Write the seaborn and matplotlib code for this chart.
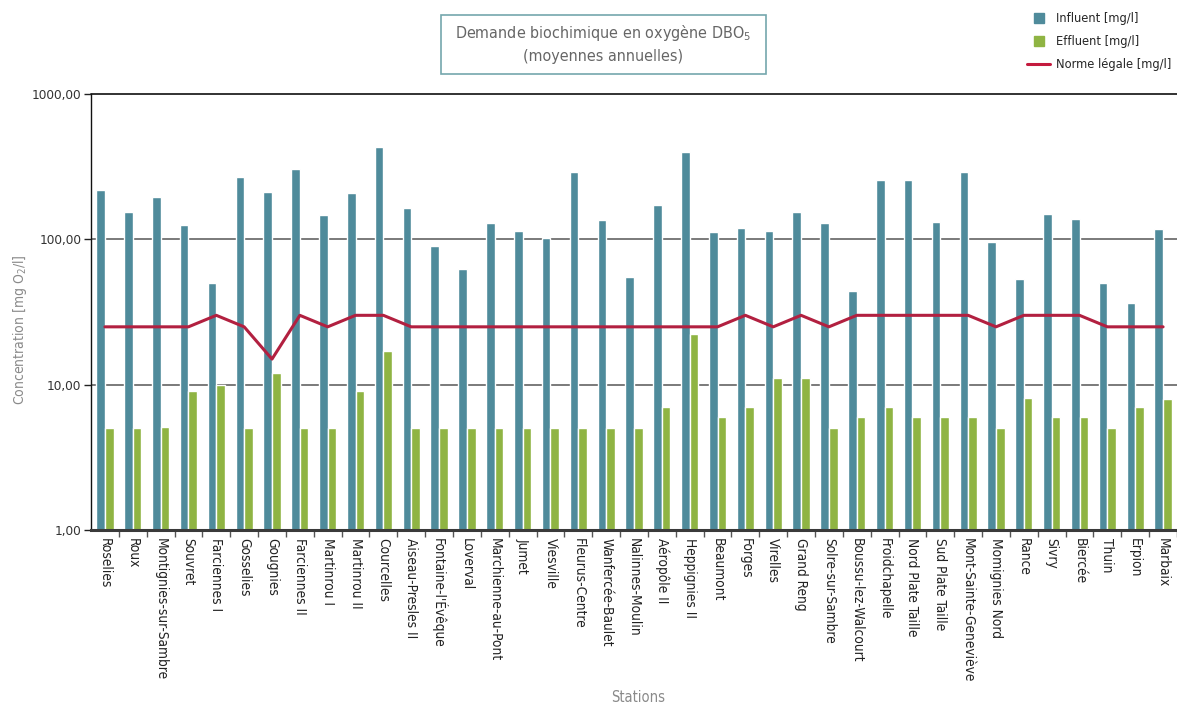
import numpy as np
import pandas as pd
import matplotlib
matplotlib.use("Agg")
import matplotlib.pyplot as plt
from matplotlib.lines import Line2D
from matplotlib.patches import Rectangle
from matplotlib.ticker import FixedLocator, NullLocator
import seaborn as sns

stations = ["Roselies", "Roux", "Montignies-sur-Sambre", "Souvret", "Farciennes I",
            "Gosselies", "Gougnies", "Farciennes II", "Martinrou I", "Martinrou II",
            "Courcelles", "Aiseau-Presles II", "Fontaine-l'Évêque", "Loverval",
            "Marchienne-au-Pont", "Jumet", "Viesville", "Fleurus-Centre",
            "Wanfercée-Baulet", "Nalinnes-Moulin", "Aéropôle II", "Heppignies II",
            "Beaumont", "Forges", "Virelles", "Grand Reng", "Solre-sur-Sambre",
            "Boussu-lez-Walcourt", "Froidchapelle", "Nord Plate Taille",
            "Sud Plate Taille", "Mont-Sainte-Geneviève", "Momignies Nord", "Rance",
            "Sivry", "Biercée", "Thuin", "Erpion", "Marbaix"]

influent = [219, 155, 196, 126, 50, 269, 212, 305, 148, 209,
            433, 164, 90, 62.5, 130, 114, 102, 291, 136, 55,
            173, 399, 112, 120, 114, 155, 130, 44, 256, 256,
            132, 291, 96, 53, 150, 138, 50, 36.4, 118]

effluent = [5.0, 5.0, 5.1, 9.0, 10.0, 5.0, 12.0, 5.0, 5.0, 9.0,
            17.0, 5.0, 5.0, 5.0, 5.0, 5.0, 5.0, 5.0, 5.0, 5.0,
            7.0, 22.3, 6.0, 7.0, 11.1, 11.1, 5.0, 6.0, 7.0, 6.0,
            6.0, 6.0, 5.0, 8.1, 6.0, 6.0, 5.0, 7.0, 8.0]

norme = [25, 25, 25, 25, 30, 25, 15, 30, 25, 30,
         30, 25, 25, 25, 25, 25, 25, 25, 25, 25,
         25, 25, 25, 30, 25, 30, 25, 30, 30, 30,
         30, 30, 25, 30, 30, 30, 25, 25, 25]

series_names = ["Influent [mg/l]", "Effluent [mg/l]", "Norme légale [mg/l]"]
y_ticks = [1, 10, 100, 1000]
y_tick_labels = ["1,00", "10,00", "100,00", "1000,00"]

c_inf = "#4f8b9b"
c_eff = "#8fb443"
c_norm = "#b22040"

sns.set_theme(style="white")
plt.rcParams['font.family'] = ['DejaVu Sans']
plt.rcParams['font.stretch'] = 'condensed'
plt.rcParams['mathtext.default'] = 'regular'

df = pd.DataFrame({
    "Station": stations * 2,
    "Valeur": influent + effluent,
    "Type": [series_names[0]] * len(stations) + [series_names[1]] * len(stations),
})

fig = plt.figure(figsize=(11.77, 7.05), dpi=100)
ax = fig.add_axes([91 / 1177, 1 - 530 / 705, 1 - 91 / 1177, (530 - 94) / 705])

sns.barplot(data=df, x="Station", y="Valeur", hue="Type", order=stations,
            hue_order=series_names[:2], palette=[c_inf, c_eff], width=0.62,
            gap=0, saturation=1, ax=ax, legend=False, errorbar=None)
ax.set_yscale("log")
sns.lineplot(x=np.arange(len(stations)), y=norme, color=c_norm, lw=2.2,
             ax=ax, sort=False, legend=False)

ax.set_ylim(1, 1000)
ax.set_xlim(-0.5, (1177 - 104.8) / 28.14)

for v in [10, 100]:
    ax.axhline(v, color="#7a7a7a", lw=1.4, zorder=0.5)
ax.axhline(1000, color="#222222", lw=1.3, zorder=0.5, clip_on=False)

ax.yaxis.set_major_locator(FixedLocator(y_ticks))
ax.yaxis.set_minor_locator(NullLocator())
ax.set_yticklabels(y_tick_labels, fontsize=9.7, color="#333333")
ax.tick_params(axis="y", which="major", length=5, width=1, color="#222222",
               direction="out", left=True, pad=2)

ax.set_xticks(np.arange(len(stations)))
ax.set_xticklabels(stations, rotation=270, fontsize=9.8, color="#222222",
                   ha="center", va="top")
ax.tick_params(axis="x", which="major", length=0, pad=6)
ax.set_xticks(np.arange(len(stations)) + 0.5, minor=True)
ax.tick_params(axis="x", which="minor", length=5, width=1, color="#555555",
               direction="out", bottom=True)

for s in ["top", "right"]:
    ax.spines[s].set_visible(False)
ax.spines["left"].set_color("#111111")
ax.spines["left"].set_linewidth(1.0)
ax.spines["bottom"].set_color("#3a3a3a")
ax.spines["bottom"].set_linewidth(2.2)

ax.set_xlabel("")
ax.set_ylabel("")
fig.text(20 / 1177, 1 - 330 / 705, "Concentration [mg O$_2$/l]", rotation=90,
         ha="center", va="center", fontsize=10, color="#8a8a8a")
fig.text(638 / 1177, 1 - 697 / 705, "Stations", ha="center", va="center",
         fontsize=10.5, color="#8a8a8a")

fig.patches.append(Rectangle((441 / 1177, 1 - 74 / 705), 325 / 1177, 59 / 705,
                             transform=fig.transFigure, fill=False,
                             edgecolor="#74a7ad", lw=1.2))
fig.text(603 / 1177, 1 - 33 / 705, "Demande biochimique en oxygène DBO$_5$",
         ha="center", va="center", fontsize=11.5, color="#666666")
fig.text(603 / 1177, 1 - 57 / 705, "(moyennes annuelles)",
         ha="center", va="center", fontsize=11.5, color="#666666")

handles = [
    Line2D([], [], marker="s", ls="none", color=c_inf, markersize=7),
    Line2D([], [], marker="s", ls="none", color=c_eff, markersize=7),
    Line2D([], [], color="#c41a3e", lw=2.2),
]
fig.legend(handles, series_names, loc="upper left",
           bbox_to_anchor=(1022 / 1177, 1 - 7 / 705), frameon=False,
           fontsize=9.2, handlelength=1.8, handletextpad=0.5, labelspacing=0.78,
           borderaxespad=0)

fig.savefig("out.png", dpi=100)
